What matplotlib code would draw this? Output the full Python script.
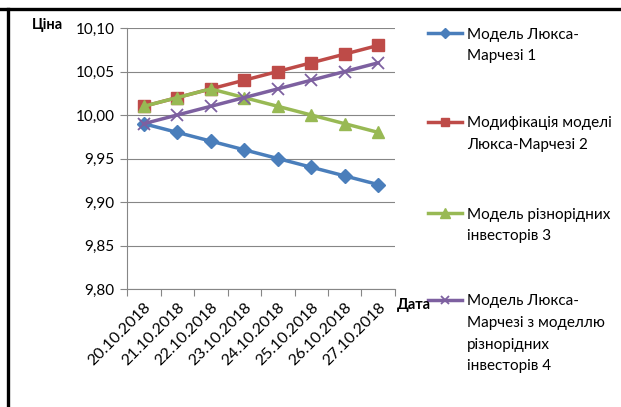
import matplotlib
matplotlib.use("Agg")
import matplotlib.pyplot as plt
from matplotlib.lines import Line2D

dates = ["20.10.2018", "21.10.2018", "22.10.2018", "23.10.2018",
         "24.10.2018", "25.10.2018", "26.10.2018", "27.10.2018"]
luxa_marchesi = [9.99, 9.98, 9.97, 9.96, 9.95, 9.94, 9.93, 9.92]
luxa_marchesi_mod = [10.01, 10.02, 10.03, 10.04, 10.05, 10.06, 10.07, 10.08]
hetero_investors = [10.01, 10.02, 10.03, 10.02, 10.01, 10.00, 9.99, 9.98]
luxa_hetero = [9.99, 10.00, 10.01, 10.02, 10.03, 10.04, 10.05, 10.06]

labels = ["Модель Люкса-\nМарчезі 1",
          "Модифікація моделі\nЛюкса-Марчезі 2",
          "Модель різнорідних\nінвесторів 3",
          "Модель Люкса-\nМарчезі з моделлю\nрізнорідних\nінвесторів 4"]
y_ticks = [9.80, 9.85, 9.90, 9.95, 10.00, 10.05, 10.10]

plt.rcParams["font.family"] = ["Lato", "DejaVu Sans"]

W, H = 621, 407
fig = plt.figure(figsize=(W / 100, H / 100), dpi=100)
ax = fig.add_axes([127 / W, 1 - 289 / H, (395 - 127) / W, (289 - 28) / H])

styles = [
    dict(color="#4A7EBB", marker="D", ms=7),
    dict(color="#BE4B48", marker="s", ms=8),
    dict(color="#98B954", marker="^", ms=9),
    dict(color="#7D60A0", marker="x", ms=8, mew=1.3),
]
series = [luxa_marchesi, luxa_marchesi_mod, hetero_investors, luxa_hetero]
x = list(range(len(dates)))
for vals, st in zip(series, styles):
    ax.plot(x, vals, lw=2.5, **st, zorder=3)

grid_c = "#868686"
ax.set_xlim(-0.5, len(dates) - 0.5)
ax.set_ylim(9.80, 10.10)
ax.set_yticks(y_ticks)
ax.set_yticklabels([f"{v:.2f}".replace(".", ",") for v in y_ticks], fontsize=11)
ax.yaxis.grid(True, color=grid_c, lw=0.8)
ax.set_axisbelow(True)
ax.set_xticks(x)
ax.set_xticklabels(dates, rotation=45, ha="right", va="top",
                   rotation_mode="anchor", fontsize=11.5)
ax.set_xticks([i - 0.5 for i in range(len(dates) + 1)], minor=True)
ax.tick_params(axis="x", which="major", length=0, pad=8)
ax.tick_params(axis="x", which="minor", length=5, color=grid_c, width=0.8)
ax.tick_params(axis="y", length=5, color=grid_c, width=0.8, pad=4)
for s in ("top", "right"):
    ax.spines[s].set_visible(False)
for s in ("left", "bottom"):
    ax.spines[s].set_color(grid_c)
    ax.spines[s].set_linewidth(0.8)

fig.text(47 / W, 1 - 25 / H, "Ціна", fontsize=10.5, fontweight="bold",
         ha="center", va="center")
fig.text(414 / W, 1 - 305 / H, "Дата", fontsize=10.5, fontweight="bold",
         ha="center", va="center")

# legend keys and labels on the right
first_line_y = [33, 122, 213, 300]
line_step = 21.5
for lab, st, yy in zip(labels, styles, first_line_y):
    yf = 1 - yy / H
    fig.add_artist(Line2D([428 / W, 462 / W], [yf, yf], lw=2.5,
                          color=st["color"]))
    fig.add_artist(Line2D([445 / W], [yf], color=st["color"],
                          marker=st["marker"], ms=st["ms"] * 0.8,
                          mew=st.get("mew", 1), lw=0))
    for k, part in enumerate(lab.split("\n")):
        fig.text(467 / W, 1 - (yy + 5.5 + k * line_step) / H, part,
                 fontsize=11, ha="left", va="baseline")

# outer frame (top and left edges)
fig.add_artist(Line2D([0, 1], [1 - 9 / H, 1 - 9 / H], color="black", lw=2.4))
fig.add_artist(Line2D([7.5 / W, 7.5 / W], [0, 1 - 9 / H], color="black", lw=2.4))

fig.savefig("out.png", dpi=100)
